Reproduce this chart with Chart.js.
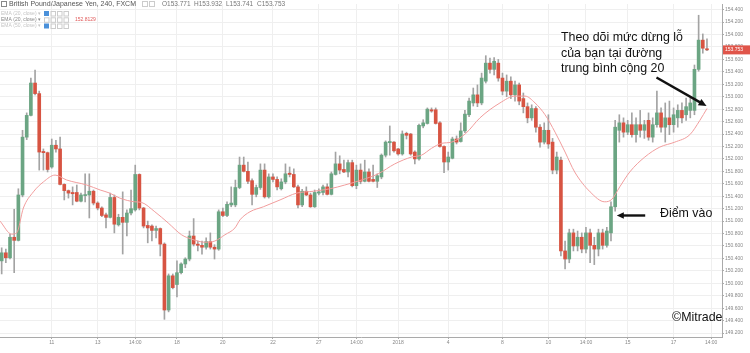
<!DOCTYPE html>
<html>
<head>
<meta charset="utf-8">
<script src="https://cdn.jsdelivr.net/npm/chart.js@4.4.1/dist/chart.umd.min.js"></script>
<style>
  html, body { margin: 0; padding: 0; background: #fff; }
  #wrap { width: 750px; height: 353px; }
</style>
</head>
<body>
<div id="wrap"><canvas id="chart"></canvas></div>
<script>
// GBP/JPY 240 candles (one entry per candle)
const opens = [
  150.36,150.49,150.41,150.74,150.69,151.42,152.35,152.70,153.22,153.05,
  152.12,152.10,151.87,152.22,152.16,151.59,151.49,151.46,151.46,151.32,
  151.41,151.42,151.48,151.29,151.21,151.10,151.06,151.38,150.94,151.06,
  150.98,151.13,151.18,151.75,151.21,150.93,150.92,150.85,150.88,150.63,
  149.57,150.12,149.98,150.17,150.31,150.39,150.76,150.63,150.61,150.58,
  150.67,150.58,150.55,151.15,151.09,151.26,151.26,151.54,151.90,151.80,
  151.65,151.43,151.54,151.82,151.39,151.71,151.67,151.52,151.63,151.77,
  151.75,151.55,151.26,151.48,151.42,151.23,151.45,151.46,151.55,151.43,
  151.75,151.92,151.83,151.79,151.94,151.57,151.82,151.64,151.79,151.67,
  151.64,151.71,152.06,152.26,152.27,152.16,152.08,152.41,152.40,152.11,
  152.00,152.53,152.57,152.79,152.79,152.58,152.20,151.95,152.01,152.32,
  152.28,152.45,152.71,152.90,153.03,152.90,153.25,153.54,153.44,153.54,
  153.30,153.09,153.25,153.03,153.19,152.97,152.84,152.66,152.81,152.51,
  152.27,152.46,152.27,151.82,151.98,150.52,150.39,150.81,150.60,150.74,
  150.55,150.81,150.61,150.55,150.81,150.61,150.81,151.23,152.46,152.58,
  152.43,152.55,152.39,152.55,152.46,152.62,152.35,152.55,152.74,152.51,
  152.66,152.55,152.66,152.78,152.71,152.78,152.78,153.44,153.91,153.771
];
const highs = [
  150.57,150.55,150.79,151.19,151.52,152.46,152.74,153.30,153.43,153.09,
  152.16,152.11,152.32,152.30,152.35,151.60,151.50,151.55,151.58,151.45,
  151.76,151.76,151.50,151.31,151.23,151.13,151.45,151.42,151.11,151.47,
  151.18,151.50,151.90,151.76,151.22,151.00,150.94,150.92,150.89,150.65,
  150.15,150.15,150.36,150.33,150.41,150.84,151.04,150.68,150.68,150.73,
  150.81,150.62,151.18,151.21,151.31,151.55,151.66,152.03,152.03,151.95,
  151.68,151.58,151.92,151.92,151.76,151.76,151.71,151.68,151.92,151.87,
  151.84,151.58,151.51,151.55,151.45,151.50,151.52,151.58,151.60,151.79,
  152.11,152.05,151.98,151.98,151.98,151.90,151.92,151.98,151.84,151.90,
  151.76,152.08,152.29,152.53,152.28,152.17,152.45,152.43,152.41,152.13,
  152.56,152.63,152.82,152.82,152.82,152.60,152.21,152.11,152.35,152.37,
  152.58,152.78,152.98,153.14,153.19,153.38,153.66,153.62,153.63,153.60,
  153.38,153.35,153.32,153.25,153.22,153.06,152.90,152.87,152.84,152.55,
  152.58,152.71,152.33,152.11,152.03,150.68,150.87,150.87,150.84,150.81,
  150.90,150.87,150.74,150.87,150.87,150.90,151.31,152.62,152.71,152.66,
  152.62,152.74,152.66,152.78,152.62,152.74,152.66,153.09,152.82,152.90,
  152.93,152.82,152.87,152.90,152.98,152.98,153.51,154.31,154.01,153.932
];
const lows = [
  150.15,150.33,150.39,150.17,150.68,151.39,152.31,152.69,153.03,151.82,
  151.82,151.79,151.85,152.11,151.58,151.34,151.37,151.26,151.31,151.31,
  151.31,151.05,151.26,151.18,151.07,150.89,151.05,150.81,150.92,150.47,
  150.76,151.10,151.16,151.18,150.89,150.65,150.68,150.73,150.44,149.42,
  149.54,149.91,149.78,150.15,150.25,150.36,150.60,150.52,150.47,150.55,
  150.55,150.39,150.53,151.07,151.07,151.23,151.23,151.52,151.79,151.60,
  151.26,151.39,151.51,151.37,151.37,151.63,151.50,151.50,151.60,151.71,
  151.54,151.21,151.23,151.41,151.22,151.22,151.42,151.42,151.42,151.42,
  151.74,151.76,151.78,151.71,151.55,151.52,151.60,151.63,151.63,151.63,
  151.54,151.68,152.03,152.06,152.11,152.06,152.06,152.32,152.06,151.92,
  151.98,152.50,152.56,152.75,152.56,152.19,151.78,151.82,152.00,152.24,
  152.27,152.42,152.68,152.85,152.84,152.87,153.22,153.38,153.35,153.25,
  153.03,153.00,152.97,152.93,152.87,152.74,152.58,152.62,152.43,152.19,
  152.24,152.17,151.76,151.76,150.44,150.23,150.33,150.52,150.52,150.49,
  150.49,150.33,150.30,150.44,150.55,150.58,150.68,151.16,152.27,152.35,
  152.39,152.35,152.27,152.35,152.33,152.30,152.27,152.51,152.43,152.27,
  152.39,152.43,152.51,152.58,152.62,152.66,152.71,153.41,153.70,153.741
];
const closes = [
  150.49,150.41,150.74,150.69,151.42,152.35,152.70,153.22,153.05,152.11,
  152.10,151.83,152.22,152.16,151.59,151.49,151.45,151.44,151.32,151.42,
  151.42,151.48,151.29,151.21,151.09,151.06,151.38,150.95,151.06,150.98,
  151.13,151.20,151.75,151.21,150.92,150.89,150.85,150.88,150.63,149.57,
  150.12,149.93,150.17,150.31,150.39,150.76,150.63,150.61,150.58,150.67,
  150.58,150.55,151.15,151.09,151.27,151.29,151.54,151.90,151.80,151.64,
  151.43,151.54,151.82,151.39,151.71,151.67,151.55,151.63,151.76,151.75,
  151.55,151.26,151.48,151.42,151.23,151.46,151.47,151.55,151.43,151.76,
  151.92,151.82,151.79,151.94,151.57,151.82,151.64,151.79,151.64,151.64,
  151.73,152.06,152.27,152.28,152.13,152.08,152.40,152.38,152.08,152.00,
  152.54,152.58,152.80,152.77,152.57,152.20,151.95,152.03,152.32,152.27,
  152.45,152.72,152.93,153.03,152.90,153.30,153.54,153.44,153.57,153.30,
  153.09,153.25,153.03,153.19,152.93,152.84,152.66,152.81,152.51,152.27,
  152.46,152.24,151.82,152.03,150.52,150.39,150.81,150.60,150.74,150.55,
  150.81,150.61,150.55,150.81,150.61,150.84,151.23,152.51,152.58,152.43,
  152.55,152.39,152.55,152.46,152.55,152.35,152.55,152.74,152.51,152.66,
  152.55,152.71,152.78,152.66,152.84,152.90,153.44,153.91,153.78,153.753
];

// EMA (20, close) line, read at points along the curve (candle index, price)
const emaIdx = [-0.4, 2.4, 3.6, 5.2, 7.6, 10, 12.8, 15.6, 20.4, 23.6, 25.9, 28.3, 31.9, 33.5, 36.7, 39.9,
  43.1, 45.5, 48.7, 51.1, 53.5, 55.9, 57.1, 59.5, 62.7, 66.7, 70.7, 74.7, 78.7, 82.2, 86.2, 90.2,
  94.2, 98.2, 100.6, 103, 105.4, 107.8, 111.2, 114.6, 119.4, 123, 125.4, 127.8, 130.2, 132.6, 135,
  137.3, 141, 144.5, 146.2, 148.1, 150.5, 154.1, 157.7, 161.3, 164.9, 167.3, 169];
const emaVal = [151.00, 150.79, 150.81, 151.21, 151.47, 151.63, 151.74, 151.66, 151.58, 151.50, 151.45, 151.37, 151.31, 151.30, 151.15, 150.97,
  150.78, 150.71, 150.66, 150.68, 150.78, 150.89, 151.02, 151.15, 151.23, 151.34, 151.45, 151.48, 151.52, 151.58, 151.66, 151.76,
  151.92, 152.03, 152.06, 152.17, 152.25, 152.27, 152.41, 152.66, 152.90, 153.01, 153.01, 152.90, 152.71, 152.43, 152.11,
  151.79, 151.47, 151.31, 151.35, 151.55, 151.79, 152.03, 152.19, 152.27, 152.39, 152.62, 152.81];

// time axis labels (candle index where each label sits)
const xTickIdx = [12, 23, 32, 42, 53, 65, 76, 85, 95, 107, 120, 131, 140, 150, 161, 170];
const xTickLabels = ['11', '13', '14:00', '18', '20', '22', '27', '14:00', '2018', '4', '8', '10', '14:00', '15', '17', '14:00'];

// price axis ticks
const yTicks = [149.2, 149.4, 149.6, 149.8, 150.0, 150.2, 150.4, 150.6, 150.8, 151.0, 151.2, 151.4, 151.6, 151.8,
  152.0, 152.2, 152.4, 152.6, 152.8, 153.0, 153.2, 153.4, 153.6, 153.8, 154.0, 154.2, 154.4];

const lastPrice = 153.753;

const UP = '#6ba583';
const DOWN = '#d75442';
const FONT = '"Liberation Sans", Arial, sans-serif';

Chart.defaults.font.family = FONT;

function candleColor(ctx) {
  const i = ctx.dataIndex;
  return closes[i] >= opens[i] ? UP : DOWN;
}

function drawArrow(ctx, x1, y1, x2, y2, width, head) {
  const a = Math.atan2(y2 - y1, x2 - x1);
  ctx.lineWidth = width;
  ctx.beginPath();
  ctx.moveTo(x1, y1);
  ctx.lineTo(x2 - head * 0.8 * Math.cos(a), y2 - head * 0.8 * Math.sin(a));
  ctx.stroke();
  ctx.beginPath();
  ctx.moveTo(x2, y2);
  ctx.lineTo(x2 - head * Math.cos(a) + head * 0.45 * Math.sin(a), y2 - head * Math.sin(a) - head * 0.45 * Math.cos(a));
  ctx.lineTo(x2 - head * Math.cos(a) - head * 0.45 * Math.sin(a), y2 - head * Math.sin(a) + head * 0.45 * Math.cos(a));
  ctx.closePath();
  ctx.fill();
}

// header legend, price label and the text notes drawn over the chart
const overlayPlugin = {
  id: 'overlay',
  afterDraw(chart) {
    const { ctx, scales: { x, y } } = chart;
    ctx.save();
    ctx.textBaseline = 'middle';

    // title row
    ctx.strokeStyle = '#888';
    ctx.lineWidth = 1;
    ctx.strokeRect(1.5, 1.5, 5, 5);
    ctx.fillStyle = '#555';
    ctx.font = '7px ' + FONT;
    ctx.fillText('British Pound/Japanese Yen, 240, FXCM', 9, 4.5);
    ctx.fillStyle = '#999';
    ctx.font = '5px ' + FONT;
    ctx.fillText('▾', 132, 4.5);
    ctx.strokeStyle = '#ccc';
    ctx.strokeRect(142.5, 1.5, 5, 5);
    ctx.strokeRect(149.5, 1.5, 5, 5);
    ctx.fillStyle = '#777';
    ctx.font = '6.5px ' + FONT;
    ctx.fillText('O153.771', 162, 4.5);
    ctx.fillText('H153.932', 194, 4.5);
    ctx.fillText('L153.741', 226, 4.5);
    ctx.fillText('C153.753', 257, 4.5);

    // indicator rows
    const rows = [
      { t: 'EMA (20, close) ▾', c: '#c4c4c4', y: 13.5, blue: true },
      { t: 'EMA (20, close) ▾', c: '#888', y: 19.8, blue: false, val: '152.8129' },
      { t: 'EMA (50, close) ▾', c: '#c4c4c4', y: 26, blue: true }
    ];
    ctx.font = '5px ' + FONT;
    rows.forEach(r => {
      ctx.fillStyle = r.c;
      ctx.fillText(r.t, 1, r.y);
      let bx = 44;
      if (r.blue) {
        ctx.fillStyle = '#4a90d9';
        ctx.fillRect(bx, r.y - 2.5, 5, 5);
        bx += 6.5;
      }
      ctx.strokeStyle = '#ccc';
      for (let k = 0; k < (r.blue ? 3 : 4); k++) {
        ctx.strokeRect(bx + 0.5, r.y - 2, 4.5, 4.5);
        bx += 6.5;
      }
      if (r.val) {
        ctx.fillStyle = '#e05a5a';
        ctx.fillText(r.val, 75, r.y);
      }
    });

    // last price box on the price axis
    const py = y.getPixelForValue(lastPrice);
    ctx.fillStyle = '#e0554a';
    ctx.fillRect(x.right + 1, py - 4.5, 27, 9);
    ctx.fillStyle = '#fff';
    ctx.font = '5px ' + FONT;
    ctx.fillText('153.753', x.right + 3, py);

    // notes
    ctx.fillStyle = '#111';
    ctx.strokeStyle = '#111';
    ctx.font = '12.4px ' + FONT;
    ctx.fillText('Theo dõi mức dừng lỗ', 561, 37.5);
    ctx.fillText('của bạn tại đường', 561, 53.3);
    ctx.fillText('trung bình cộng 20', 561, 68.8);
    ctx.fillText('Điểm vào', 660, 214);
    ctx.fillText('©Mitrade', 672, 317.5);

    drawArrow(ctx, x.getPixelForValue(156.9), y.getPixelForValue(153.31),
      x.getPixelForValue(168.9), y.getPixelForValue(152.85), 2.4, 8);
    drawArrow(ctx, x.getPixelForValue(154.2), y.getPixelForValue(151.09),
      x.getPixelForValue(147.4), y.getPixelForValue(151.09), 2.4, 7);

    ctx.restore();
  }
};

const ctx = document.getElementById('chart').getContext('2d');
new Chart(ctx, {
  type: 'bar',
  data: {
    datasets: [
      {
        type: 'line',
        label: 'EMA 20',
        data: emaIdx.map((v, i) => ({ x: v, y: emaVal[i] })),
        borderColor: '#f19d9d',
        borderWidth: 1,
        pointRadius: 0,
        cubicInterpolationMode: 'monotone',
        order: 1
      },
      {
        label: 'body',
        data: opens.map((o, i) => ({ x: i, y: [o, closes[i]] })),
        backgroundColor: candleColor,
        barThickness: 3,
        minBarLength: 1,
        grouped: false,
        order: 2
      },
      {
        label: 'wick',
        data: lows.map((l, i) => ({ x: i, y: [l, highs[i]] })),
        backgroundColor: '#a3a3a3',
        barThickness: 1,
        grouped: false,
        order: 3
      }
    ]
  },
  options: {
    responsive: true,
    maintainAspectRatio: false,
    animation: false,
    layout: { padding: 0 },
    plugins: {
      legend: { display: false },
      tooltip: { enabled: false }
    },
    scales: {
      x: {
        type: 'linear',
        min: -0.4,
        max: 172.6,
        offset: false,
        afterFit(scale) { scale.height = 16; },
        afterBuildTicks(scale) { scale.ticks = xTickIdx.map(v => ({ value: v })); },
        ticks: {
          autoSkip: false,
          maxRotation: 0,
          color: '#888',
          font: { size: 5 },
          padding: 1,
          callback: (v) => {
            const k = xTickIdx.indexOf(v);
            return k >= 0 ? xTickLabels[k] : '';
          }
        },
        grid: { color: '#efefef', offset: false, tickLength: 2, tickColor: '#aaa' },
        border: { color: '#aaa' }
      },
      y: {
        position: 'right',
        min: 149.136,
        max: 154.491,
        afterFit(scale) { scale.width = 28; },
        afterBuildTicks(scale) { scale.ticks = yTicks.map(v => ({ value: v })); },
        ticks: {
          color: '#888',
          font: { size: 5 },
          padding: 1,
          callback: (v) => v.toFixed(3)
        },
        grid: { color: '#efefef', tickLength: 2, tickColor: '#aaa' },
        border: { color: '#aaa' }
      }
    }
  },
  plugins: [overlayPlugin]
});
</script>
</body>
</html>
